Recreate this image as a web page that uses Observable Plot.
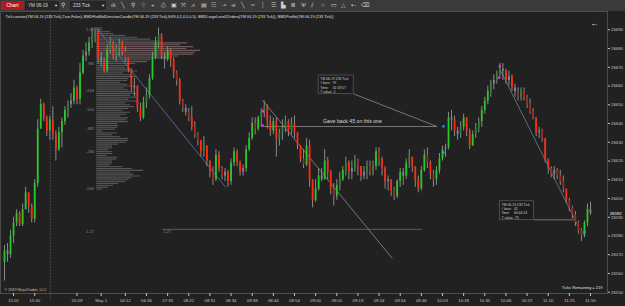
<!DOCTYPE html>
<html><head><meta charset="utf-8">
<script src="https://cdn.jsdelivr.net/npm/d3@7"></script>
<script src="https://cdn.jsdelivr.net/npm/@observablehq/plot@0.6"></script>
<style>
html,body{margin:0;padding:0;background:#212121;width:625px;height:306px;overflow:hidden;font-family:"Liberation Sans",Arial,sans-serif;}
#tb{position:relative;height:11px;background:#3a3a3a;border-bottom:0;}
#tb span{position:absolute;top:0;line-height:11px;color:#d8d8d8;font-size:4.6px;white-space:nowrap;}
#tb .btn{left:1px;top:1px;height:9px;line-height:9px;width:23px;background:#b3181c;color:#fff;font-size:5px;text-align:center;}
#tb .dd{top:1px;height:9px;line-height:9px;background:#262626;padding-left:3px;box-sizing:border-box;}
#tb .ic{font-size:6px;color:#cfcfcf;}
#chart{height:295px;}
</style></head><body>
<div id="tb">
 <span class="btn">Chart</span>
 <span class="dd" style="left:25px;width:34px">YM 06-19<span style="left:29px;top:0;line-height:9px;font-size:4px">▼</span></span>
 <span class="ic" style="left:61px">⚲</span>
 <span class="dd" style="left:70px;width:36px">233 Tick<span style="left:31px;top:0;line-height:9px;font-size:4px">▼</span></span>
</div>
<div id="chart"></div>
<script>
// ---- candle data (YM 06-19, 233 tick) ----
const firstOpen = 26566;
const close = [26572,26570,26580,26587,26592,26586,26594,26603,26596,26589,
26608,26637,26650,26643,26636,26642,26634,26626,26635,26641,
26647,26650,26652,26659,26653,26667,26676,26678,26683,26686,
26689,26675,26673,26668,26679,26683,26676,26680,26683,26678,
26675,26669,26659,26660,26648,26643,26651,26655,26664,26675,
26683,26687,26676,26674,26679,26674,26667,26663,26652,26648,
26646,26643,26638,26634,26631,26625,26628,26620,26614,26610,
26623,26616,26612,26614,26609,26619,26625,26619,26614,26616,
26626,26632,26640,26637,26643,26646,26649,26641,26636,26641,
26632,26635,26638,26641,26636,26640,26635,26628,26621,26618,
26628,26610,26599,26605,26612,26610,26620,26614,26605,26601,
26607,26610,26615,26619,26614,26616,26620,26617,26612,26614,
26617,26614,26617,26625,26621,26616,26609,26610,26604,26601,
26609,26614,26612,26619,26622,26617,26610,26605,26615,26623,
26619,26613,26610,26615,26621,26626,26627,26643,26642,26636,
26634,26638,26643,26636,26628,26634,26637,26641,26647,26652,
26657,26661,26663,26666,26669,26668,26663,26665,26659,26657,
26654,26657,26654,26650,26646,26643,26635,26636,26632,26621,
26616,26613,26615,26612,26609,26605,26599,26595,26591,26587,
26583,26580,26587,26594,26592];
const high = [26575,26576,26583,26590,26594,26593,26597,26606,26603,26597,
26610,26642,26653,26651,26644,26644,26649,26636,26638,26643,
26649,26652,26656,26663,26660,26672,26679,26683,26686,26691,
26691,26690,26678,26675,26682,26686,26684,26682,26685,26684,
26681,26675,26669,26664,26660,26651,26654,26659,26666,26678,
26686,26691,26688,26678,26681,26680,26675,26668,26664,26653,
26650,26648,26649,26641,26635,26631,26633,26628,26620,26617,
26626,26625,26617,26616,26615,26621,26627,26626,26620,26618,
26628,26635,26643,26643,26644,26648,26652,26650,26644,26643,
26643,26637,26642,26644,26642,26643,26644,26635,26628,26626,
26632,26631,26610,26610,26616,26616,26626,26622,26615,26608,
26610,26614,26617,26622,26620,26620,26623,26621,26617,26617,
26620,26620,26620,26627,26627,26622,26617,26612,26610,26606,
26610,26616,26616,26621,26626,26622,26617,26612,26617,26626,
26627,26620,26615,26617,26624,26628,26629,26646,26647,26644,
26638,26641,26645,26643,26637,26636,26640,26643,26649,26654,
26660,26663,26666,26668,26672,26672,26669,26668,26666,26661,
26659,26659,26659,26655,26653,26648,26643,26638,26637,26632,
26621,26617,26617,26616,26615,26612,26605,26600,26596,26593,
26588,26584,26588,26597,26598];
const low = [26556,26566,26568,26576,26585,26585,26585,26594,26592,26587,
26587,26606,26637,26641,26633,26631,26631,26620,26625,26627,
26639,26643,26648,26650,26650,26650,26666,26673,26676,26680,
26683,26672,26670,26667,26667,26677,26674,26673,26676,26676,
26673,26667,26657,26654,26646,26641,26642,26648,26653,26663,
26674,26680,26674,26669,26673,26670,26664,26660,26650,26646,
26644,26641,26636,26632,26628,26622,26622,26617,26611,26607,
26609,26614,26610,26609,26606,26607,26617,26617,26612,26612,
26614,26625,26631,26634,26636,26638,26643,26637,26633,26634,
26622,26628,26631,26635,26633,26634,26632,26626,26619,26616,
26617,26606,26595,26598,26604,26609,26610,26610,26602,26596,
26599,26604,26609,26612,26610,26610,26614,26612,26609,26610,
26610,26612,26612,26615,26617,26612,26605,26604,26601,26599,
26600,26606,26607,26610,26616,26614,26606,26603,26604,26614,
26616,26610,26606,26607,26613,26620,26622,26626,26636,26633,
26631,26632,26636,26633,26626,26628,26632,26635,26638,26645,
26650,26654,26658,26661,26665,26663,26661,26660,26657,26654,
26652,26652,26652,26648,26645,26642,26633,26632,26630,26619,
26613,26611,26610,26610,26607,26603,26597,26593,26589,26585,
26581,26577,26579,26585,26591];

// ---- axis labels ----
const timeLabels = ["15:01","15:30","20:29","May 1","04:12","06:36","07:33","08:22","08:31","08:34","08:38","08:44","08:54","09:00","09:05","09:13","09:24","09:34","09:46","10:03","10:18","10:35","10:46","10:57","11:10","11:25","11:50"];
const timeBars = [3,10,24,32,40,47,54,61,68,75,82,89,96,103,110,117,124,131,138,145,152,159,166,173,180,187,194];
const priceTicks = [26550,26560,26570,26580,26590,26600,26610,26620,26630,26640,26650,26660,26670,26680,26690];

// ---- volume profile (price level -> volume) ----
const profileStartBar = 30.5;
const profileTop = 26691;
const profileVolumes = [12,12,28,34,58,82,108,128,182,168,
194,180,208,198,194,164,148,108,102,78,
62,58,68,82,54,72,82,64,62,48,
62,68,56,64,74,82,68,80,64,82,
58,68,76,64,52,68,60,48,64,60,
64,42,44,42,38,12,42,32,48,64,
64,60,44,32,32,24,32,32,20,42,
40,32,32,28,52,72,94,68,74,88,
70,64,58,44,34,24,12];

// ---- fibonacci retracement ----
const fibHigh = 26690, fibLow = 26605, fibBar = 29.6;
const fibLevels = [1, 0.786, 0.618, 0.5, 0.382, 0.236, 0, -0.27];
const fibLabels = ["1.00", ".786", ".618", ".500", ".382", ".236", ".000", "1.27"];
const fibExtStart = 52.3, fibExtEnd = 138.4;

// ---- drawings ----
const sessionBreak = 15.2;
const lineX1 = [30.5, 85.4, 164.2, 85.4, 115.6, 175.2];
const lineY1 = [26691, 26652.5, 26668.3, 26638.4, 26655.8, 26588.6];
const lineX2 = [73.2, 128.4, 190, 143.2, 143.2, 188.4];
const lineY2 = [26606, 26568, 26585, 26638.4, 26638.4, 26588.6];
const lineKind = ["blue", "grey", "steel", "grey", "grey", "grey"];

const markerBar = [85.6, 85.4, 164, 163.8, 145.3, 145.3, 192];
const markerPrice = [26646.5, 26639, 26670.5, 26664.5, 26638.5, 26624.5, 26582];
const markerKind = ["buy", "buy", "buy", "buy", "sell", "sell", "sell"];

const noteText = "Gave back 45 on this one";
const noteBar = 115.2, notePrice = 26641.2;

const boxX1 = [104, 164], boxX2 = [115.6, 175.2];
const boxTop = [26665.6, 26598.5], boxBottom = [26655.8, 26588.6];
const boxKeys = ["YM 06-19 233 Tick\n# bars:\nTime:\nY value:", "YM 06-19 233 Tick\n# bars:\nTime:\nY value:"];
const boxVals = ["\n97\n01:18:57\n-1", "\n41\n00:40:24\n-75"];

const indicatorText = "Tick counter(YM 06-19 (233 Tick),True,False), BMDFlatMidDirectionCandle(YM 06-19 (233 Tick),8,89,0,2,0.5,0.5), BMDLargeLevel2Orders(YM 06-19 (233 Tick)), BMDProfile(YM 06-19 (233 Tick))";

// ---- build tables ----
const bars = close.map((c, i) => {
  const o = i ? close[i - 1] : firstOpen;
  return {i, open: o, close: c, high: Math.max(high[i], o, c), low: Math.min(low[i], o, c)};
});
function candleColor(d) {
  const m = d.close - d.open;
  if (Math.abs(m) <= 2) return "#858585";
  if (m >= 5) return "#25c92a";
  if (m > 0) return "#2a8434";
  if (m <= -5) return "#ff2a12";
  return "#a0291d";
}
const profile = profileVolumes.map((v, k) => ({price: profileTop - k, vol: v}));
const barsPerVol = 1 / 6.04;
const fib = fibLevels.map((l, k) => ({price: fibLow + l * (fibHigh - fibLow), label: fibLabels[k]}));
const extPrice = fibLow + fibLevels[7] * (fibHigh - fibLow);
const lines = lineX1.map((x, k) => ({x1: x, y1: lineY1[k], x2: lineX2[k], y2: lineY2[k], kind: lineKind[k]}));
const lineColors = {blue: "#5878b4", grey: "#8c8c8c", steel: "#687e9e"};
const markers = markerBar.map((b, k) => ({bar: b, price: markerPrice[k], kind: markerKind[k]}));
const boxes = boxX1.map((x, k) => ({x1: x, x2: boxX2[k], y1: boxTop[k], y2: boxBottom[k], keys: boxKeys[k], vals: boxVals[k]}));
const timeMap = new Map(timeBars.map((b, k) => [b, timeLabels[k]]));
const lastClose = close[close.length - 1];

const plot = Plot.plot({
  width: 625, height: 295,
  marginLeft: 0, marginRight: 18, marginTop: 0, marginBottom: 13,
  style: {background: "#212121", color: "#c4c4c4", fontFamily: "Liberation Sans, Arial, sans-serif", fontSize: "4.3px"},
  x: {domain: [0, 194], range: [4, 590]},
  y: {domain: [26550, 26690], range: [280.7, 18.3]},
  marks: [
    Plot.frame({stroke: "#4c4c4c"}),
    Plot.ruleX([sessionBreak], {y1: 26545, y2: 26698, stroke: "#505050", strokeDasharray: "1.5,1.5"}),
    // volume profile
    Plot.ruleY(profile, {y: "price", x1: profileStartBar, x2: d => profileStartBar + d.vol * barsPerVol,
      stroke: d => d.vol >= 160 ? "#6f5a5c" : "#575757", strokeWidth: 1.1}),
    // fib labels
    Plot.text(fib, {x: fibBar, y: "price", text: "label", textAnchor: "end", fill: "#8a8a8a", fontSize: 4}),
    Plot.ruleY([extPrice], {x1: fibExtStart, x2: fibExtEnd, y: d => d + 1.5, stroke: "#5c5c5c", strokeWidth: 1}),
    Plot.text([fibLabels[7]], {x: fibExtStart, y: extPrice, text: d => d, textAnchor: "start", dx: 1, fill: "#8a8a8a", fontSize: 4}),
    // drawings
    Plot.link(lines, {x1: "x1", y1: "y1", x2: "x2", y2: "y2", stroke: d => lineColors[d.kind], strokeWidth: 0.8}),
    // candles
    Plot.ruleX(bars, {x: "i", y1: "low", y2: "high", stroke: "#8a8a8a", strokeWidth: 1}),
    Plot.ruleX(bars, {x: "i", y1: "open", y2: "close", stroke: candleColor, strokeWidth: 1.8}),
    // order markers
    Plot.dot(markers, {x: "bar", y: "price", symbol: "square", r: 1.3, fill: d => d.kind === "buy" ? "#f032f0" : "#2a9bff", stroke: "none"}),
    // note
    Plot.text([noteText], {x: noteBar, y: notePrice, text: d => d, fill: "#d8d8d8", fontSize: 5.2}),
    // measure boxes
    Plot.rect(boxes, {x1: "x1", x2: "x2", y1: "y1", y2: "y2", fill: "#1c1c1c", stroke: "#6a6a6a", strokeWidth: 0.6}),
    Plot.text(boxes, {x: "x1", y: "y1", text: "keys", textAnchor: "start", lineAnchor: "top", dx: 1.5, dy: 1.2, fill: "#d0d0d0", fontSize: 3.4, lineHeight: 1.28}),
    Plot.text(boxes, {x: "x1", y: "y1", text: "vals", textAnchor: "start", lineAnchor: "top", dx: 14, dy: 1.2, fill: "#d0d0d0", fontSize: 3.4, lineHeight: 1.28}),
    // axes
    Plot.axisY(priceTicks, {anchor: "right", tickSize: 2, tickPadding: 1.5, tickFormat: d3.format("d"), label: null, fontSize: 4.3, fill: "#c4c4c4"}),
    Plot.axisX(timeBars, {anchor: "bottom", tickSize: 3, tickPadding: 2, tickFormat: d => timeMap.get(d), label: null, fontSize: 4.3, fill: "#c4c4c4"}),
    // texts
    Plot.text([indicatorText], {frameAnchor: "top-left", dx: 5, dy: 3.2, textAnchor: "start", lineAnchor: "top", fill: "#e0e0e0", fontSize: 4}),
    Plot.text(["© 2019 NinjaTrader, LLC"], {frameAnchor: "bottom-left", dx: 4, dy: -3, textAnchor: "start", lineAnchor: "bottom", fill: "#c8c8c8", fontSize: 3.8}),
    Plot.text(["Ticks Remaining = 219"], {frameAnchor: "bottom-right", dx: -5, dy: -4.5, textAnchor: "end", lineAnchor: "bottom", fill: "#e0e0e0", fontSize: 4}),
    Plot.text(["←"], {frameAnchor: "top-right", dx: -9, dy: 8.5, fill: "#ffffff", fontSize: 8, fontWeight: "bold"}),
    Plot.text([lastClose], {y: d => d, frameAnchor: "right", dx: 2.2, textAnchor: "start", fill: "#ffffff", fontSize: 4.3, text: d => String(d)})
  ]
});
document.getElementById("chart").appendChild(plot);

// fit the indicator line and add the last price box
const svg = d3.select(plot);
svg.selectAll("text").filter(function () { return this.textContent.startsWith("Tick counter"); })
  .attr("textLength", 328).attr("lengthAdjust", "spacingAndGlyphs");
const yLast = plot.scale("y").apply(lastClose);
const priceText = svg.selectAll("text").filter(function () { return this.textContent === String(lastClose) && this.getAttribute("fill") === "#ffffff"; });
const g = priceText.node() ? priceText.node().parentNode : null;
if (g) {
  d3.select(g).insert("rect", ":first-child").attr("x", 607).attr("y", yLast - 2.8).attr("width", 16).attr("height", 5.6)
    .attr("fill", "#000").attr("stroke", "#777").attr("stroke-width", 0.4);
}

// toolbar icons
const icons = ["ılı","╲","⚲","⚲","+","⎙","▣","⤧","⩘","▤","☷","⊸","⟛","╲","┅","┆","☰","▙","Ⅲ","Ψ","⫽","○","▭","△","⇠","⌫"];
const tb = document.getElementById("tb");
icons.forEach((c, k) => {
  const s = document.createElement("span");
  s.className = "ic"; s.textContent = c;
  s.style.left = (111 + k * 10) + "px";
  if (k === 3) s.style.color = "#777";
  tb.appendChild(s);
});
</script>
</body></html>
